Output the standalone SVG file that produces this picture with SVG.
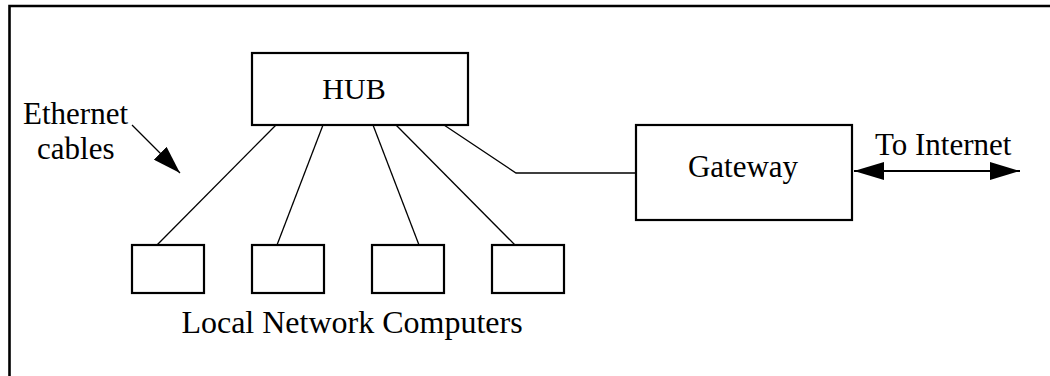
<svg xmlns="http://www.w3.org/2000/svg" width="1050" height="376" viewBox="0 0 1050 376">
<style>
.box{fill:#fff;stroke:#000;stroke-width:2.2}
.cable{fill:none;stroke:#000;stroke-width:1.3}
.lbl{font-family:"Liberation Serif","Times New Roman",serif;font-size:31px;fill:#000}
</style>
<defs>
<marker id="ah" viewBox="0 0 30 18" refX="30" refY="9" markerWidth="30" markerHeight="18" markerUnits="userSpaceOnUse" orient="auto-start-reverse">
<path d="M0,0 L30,9 L0,18 Z" fill="#000"/>
</marker>
<marker id="ah2" viewBox="0 0 28 18" refX="28" refY="9" markerWidth="28" markerHeight="18" markerUnits="userSpaceOnUse" orient="auto">
<path d="M0,0 L28,9 L0,18 Z" fill="#000"/>
</marker>
</defs>
<rect width="1050" height="376" fill="#fff"/>
<path d="M9.5,376 V6 H1050" fill="none" stroke="#000" stroke-width="2.6"/>
<g id="connectors">
<path class="cable" d="M276,125 L157,245"/>
<path class="cable" d="M323,125 L277,245"/>
<path class="cable" d="M373,125 L419,245"/>
<path class="cable" d="M396,125 L515,245"/>
<path class="cable" d="M444,125 L516,173 L636,173"/>
<path d="M854,171 L1020,171" stroke="#000" stroke-width="2" marker-start="url(#ah)" marker-end="url(#ah)"/>
<path d="M132,125 L180,173" stroke="#000" stroke-width="1.3" marker-end="url(#ah2)"/>
</g>
<g id="hub">
<rect class="box" x="252" y="53" width="216" height="72"/>
<text class="lbl" x="354" y="99" text-anchor="middle" style="font-size:30px">HUB</text>
</g>
<g id="gateway">
<rect class="box" x="636" y="125" width="216" height="95"/>
<text class="lbl" x="743" y="177" text-anchor="middle">Gateway</text>
</g>
<g id="pc1"><rect class="box" x="132" y="245" width="72" height="48"/></g>
<g id="pc2"><rect class="box" x="252" y="245" width="72" height="48"/></g>
<g id="pc3"><rect class="box" x="372" y="245" width="72" height="48"/></g>
<g id="pc4"><rect class="box" x="492" y="245" width="72" height="48"/></g>
<g id="labels">
<text class="lbl" x="23" y="124">Ethernet</text>
<text class="lbl" x="37" y="159">cables</text>
<text class="lbl" x="875" y="155">To Internet</text>
<text class="lbl" x="352" y="333" text-anchor="middle" style="font-size:32px">Local Network Computers</text>
</g>
</svg>
